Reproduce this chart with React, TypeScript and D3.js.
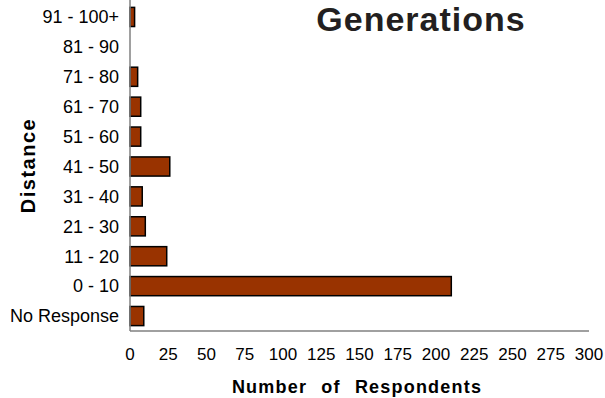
import React from "react";
import * as d3 from "d3";

const categories = ["91 - 100+", "81 - 90", "71 - 80", "61 - 70", "51 - 60", "41 - 50", "31 - 40", "21 - 30", "11 - 20", "0 - 10", "No Response"];
const values = [3, 0, 5, 7, 7, 26, 8, 10, 24, 210, 9];
const xTicks = [0, 25, 50, 75, 100, 125, 150, 175, 200, 225, 250, 275, 300];

export default function App() {
  const W = 605, H = 398;
  const left = 130, right = 589, top = 2, bottom = 331;
  const x = d3.scaleLinear().domain([0, 300]).range([left, right]);
  const y = d3.scaleBand().domain(categories).range([top, bottom]).paddingInner(0.36).paddingOuter(0.18);
  const font = "'Liberation Sans', Arial, sans-serif";
  return (
    <svg width={W} height={H} style={{ position: "absolute", left: 0, top: 0 }} fontFamily={font}>
      <rect width={W} height={H} fill="#fff" />
      {categories.map((c, i) =>
        values[i] > 0 ? (
          <rect key={c} x={x(0)} y={y(c)!} width={x(values[i]) - x(0)} height={y.bandwidth()} fill="#993300" stroke="#000" strokeWidth={1.5} />
        ) : null
      )}
      <line x1={left} x2={left} y1={0} y2={bottom} stroke="#808080" strokeWidth={1.5} />
      <line x1={left} x2={right} y1={bottom} y2={bottom} stroke="#808080" strokeWidth={1.5} />
      {categories.map((c) => (
        <text key={c} x={119} y={y(c)! + y.bandwidth() / 2} dy="0.35em" textAnchor="end" fontSize={18} fill="#000">{c}</text>
      ))}
      {xTicks.map((t) => (
        <text key={t} x={x(t)} y={360} textAnchor="middle" fontSize={17} fill="#000">{t}</text>
      ))}
      <text x={357} y={393} textAnchor="middle" fontSize={18} fontWeight="bold" letterSpacing={1.2} wordSpacing={8} fill="#000">Number of Respondents</text>
      <text transform="translate(35,165.5) rotate(-90)" textAnchor="middle" fontSize={20} fontWeight="bold" letterSpacing={1.5} fill="#000">Distance</text>
      <text x={421} y={31} textAnchor="middle" fontSize={34} fontWeight="bold" letterSpacing={1} fill="#231f20">Generations</text>
    </svg>
  );
}
